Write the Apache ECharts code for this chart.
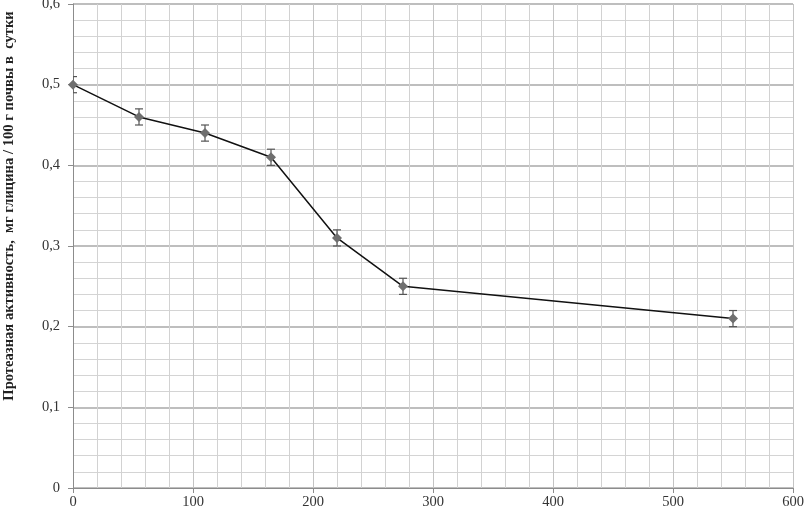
<!DOCTYPE html>
<html>
<head>
<meta charset="utf-8">
<script src="https://cdn.jsdelivr.net/npm/echarts@6/dist/echarts.min.js"></script>
<style>
  html, body { margin: 0; padding: 0; background: #fff; }
  #chart { width: 804px; height: 510px; }
</style>
</head>
<body>
<div id="chart"></div>
<script>
// данные: время (сутки) и активность протеазы
var days = [0, 55, 110, 165, 220, 275, 550];
var activity = [0.5, 0.46, 0.44, 0.41, 0.31, 0.25, 0.21];
var errors = [0.01, 0.01, 0.01, 0.01, 0.01, 0.01, 0.01];
var yTicks = [0, 0.1, 0.2, 0.3, 0.4, 0.5, 0.6];
var xTicks = [0, 100, 200, 300, 400, 500, 600];
var yTitle = 'Протеазная активность,  мг глицина / 100 г почвы в  сутки';

var serif = 'Liberation Serif';

var lineData = days.map(function (d, i) { return [d, activity[i]]; });
var errData = days.map(function (d, i) {
    return [d, activity[i] - errors[i], activity[i] + errors[i]];
});

var myChart = echarts.init(document.getElementById('chart'));
var option = {
    animation: false,
    grid: { left: 73, right: 11, top: 4, bottom: 22, containLabel: false, outerBoundsMode: 'none' },
    // подпись оси Y сдвинута вверх, как в оригинале
    graphic: [{
        type: 'text',
        x: 9,
        y: 206,
        rotation: Math.PI / 2,
        style: {
            text: yTitle,
            fill: '#222',
            font: 'bold 14.6px "Liberation Serif"',
            align: 'center',
            verticalAlign: 'middle'
        }
    }],
    xAxis: {
        type: 'value',
        min: xTicks[0],
        max: xTicks[xTicks.length - 1],
        interval: 100,
        axisLine: { show: true, lineStyle: { color: '#8c8c8c', width: 1 } },
        axisTick: { show: true, length: 5, lineStyle: { color: '#8c8c8c' } },
        axisLabel: {
            color: '#333', fontFamily: serif, fontSize: 14.5, margin: 7
        },
        splitLine: { show: true, lineStyle: { color: '#c4c4c4', width: 1 } },
        minorTick: { show: false, splitNumber: 5 },
        minorSplitLine: { show: true, lineStyle: { color: '#d2d2d2', width: 1 } }
    },
    yAxis: {
        type: 'value',
        min: yTicks[0],
        max: yTicks[yTicks.length - 1],
        interval: 0.1,
        axisLine: { show: true, lineStyle: { color: '#8c8c8c', width: 1 } },
        axisTick: { show: true, length: 5, lineStyle: { color: '#8c8c8c' } },
        axisLabel: {
            color: '#333', fontFamily: serif, fontSize: 14.5, margin: 13,
            formatter: function (v) { return String(+v.toFixed(1)).replace('.', ','); }
        },
        splitLine: { show: true, lineStyle: { color: '#a8a8a8', width: 1.5 } },
        minorTick: { show: false, splitNumber: 5 },
        minorSplitLine: { show: true, lineStyle: { color: '#d4d4d4', width: 1 } }
    },
    series: [
        {
            type: 'custom',
            clip: true,
            z: 3,
            data: errData,
            renderItem: function (params, api) {
                var x = api.value(0);
                var hi = api.coord([x, api.value(2)]);
                var lo = api.coord([x, api.value(1)]);
                var w = 4;
                var st = { stroke: '#555', lineWidth: 1.2 };
                return {
                    type: 'group',
                    children: [
                        { type: 'line', shape: { x1: hi[0], y1: hi[1], x2: lo[0], y2: lo[1] }, style: st },
                        { type: 'line', shape: { x1: hi[0] - w, y1: hi[1], x2: hi[0] + w, y2: hi[1] }, style: st },
                        { type: 'line', shape: { x1: lo[0] - w, y1: lo[1], x2: lo[0] + w, y2: lo[1] }, style: st }
                    ]
                };
            }
        },
        {
            type: 'line',
            z: 4,
            data: lineData,
            symbol: 'diamond',
            symbolSize: 10,
            lineStyle: { color: '#111', width: 1.5 },
            itemStyle: { color: '#6f6f6f' }
        }
    ]
};
myChart.setOption(option);
</script>
</body>
</html>
